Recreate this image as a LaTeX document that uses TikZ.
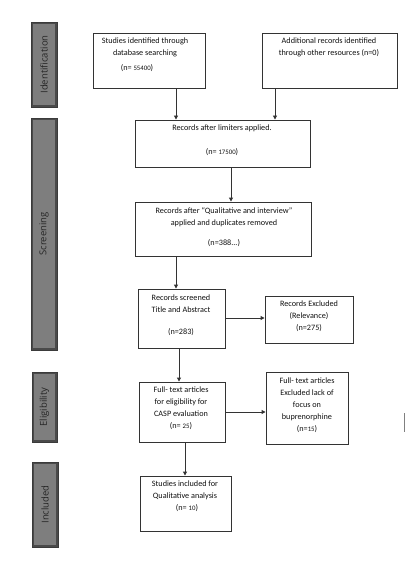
\documentclass[tikz,border=0pt]{standalone}
\usepackage{fontspec}
\setmainfont{Carlito}
\newfontfamily\barfont{Open Sans}
\usetikzlibrary{arrows.meta}
\definecolor{boxline}{HTML}{333333}
\definecolor{txtc}{HTML}{111111}
\definecolor{barout}{HTML}{4A4A4A}
\definecolor{barin}{HTML}{7E7E7E}
\newcommand{\smnum}[1]{{\fontsize{6.8}{12}\selectfont #1}}
\tikzset{
  box/.style={draw=boxline, line width=0.9pt, fill=white, inner sep=0pt},
  txt/.style={text=txtc, font=\fontsize{8.2}{12}\selectfont, align=center, inner sep=0pt, anchor=north},
  arr/.style={draw=boxline, line width=0.9pt, -{Triangle[length=4pt,width=4pt]}},
  barlbl/.style={text=black!85, font=\barfont\fontsize{9.5}{11}\selectfont, rotate=90, inner sep=0pt}
}
\newcommand{\phasebar}[4]{%
  \fill[barout] (#1,#2) rectangle (#3,#4);
  \fill[barin] (#1+2.2,#2-2.2) rectangle (#3-2.2,#4+2.2);
  \draw[barout!80!black, line width=0.6pt] (#1,#2) rectangle (#3,#4);
}
\begin{document}
\begin{tikzpicture}[x=1pt,y=1pt]
\useasboundingbox[fill=white] (0,0) rectangle (407,-567);

% phase bars
\phasebar{31}{-22}{57}{-107}
\node[barlbl] (pid) at (44,-64.5) {Identification};
\phasebar{31}{-118}{57}{-350}
\node[barlbl] (psc) at (44,-234) {Screening};
\phasebar{32}{-372}{57}{-442}
\node[barlbl] (pel) at (44.5,-407) {Eligibility};
\phasebar{32}{-462}{58}{-547}
\node[barlbl] (pin) at (45,-504.5) {Included};

% boxes
\node[box, minimum width=112pt, minimum height=55pt] (A) at (149,-60.5) {};
\node[box, minimum width=135pt, minimum height=55pt] (B) at (329.5,-60.5) {};
\node[box, minimum width=175pt, minimum height=47pt] (C) at (222.5,-143.5) {};
\node[box, minimum width=176pt, minimum height=54pt] (D) at (223,-229) {};
\node[box, minimum width=87pt, minimum height=59pt] (E) at (181.5,-318.5) {};
\node[box, minimum width=88pt, minimum height=47pt] (F) at (309,-319.5) {};
\node[box, minimum width=86pt, minimum height=60pt] (G) at (182,-412) {};
\node[box, minimum width=82pt, minimum height=72pt] (H) at (307,-408) {};
\node[box, minimum width=91pt, minimum height=55pt] (I) at (185.5,-503.5) {};

% texts
\node[txt] (At) at (145,-38) {Studies identified through\\database searching};
\node[txt] (An) at (137,-64) {(n= \smnum{55400})};
\node[txt] (Bt) at (329,-38) {Additional records identified\\through other resources (n=0)};
\node[txt] (Ct) at (222,-125) {Records after limiters applied.};
\node[txt] (Cn) at (222,-148) {(n= \smnum{17500})};
\node[txt] (Dt) at (224,-207) {Records after “Qualitative and interview”\\applied and duplicates removed};
\node[txt] (Dn) at (224,-239) {(n=388...)};
\node[txt] (Et) at (181,-295) {Records screened\\Title and Abstract};
\node[txt] (En) at (181,-328) {(n=283)};
\node[txt] (Ft) at (309,-301) {Records Excluded\\(Relevance)\\(n=275)};
\node[txt] (Gt) at (181,-387) {Full- text articles\\for eligibility for\\CASP evaluation\\(n= \smnum{25})};
\node[txt] (Ht) at (307,-378) {Full- text articles\\Excluded lack of\\focus on\\buprenorphine\\(n=\smnum{15})};
\node[txt] (It) at (185,-481) {Studies included for\\Qualitative analysis\\\hspace*{4pt}(n= \smnum{10})};

% arrows
\draw[arr] (A.south -| 176,0) -- (C.north -| 176,0);
\draw[arr] (B.south -| 275,0) -- (C.north -| 275,0);
\draw[arr] (C.south -| 231,0) -- (D.north -| 231,0);
\draw[arr] (D.south -| 176,0) -- (E.north -| 176,0);
\draw[arr] (E.east |- 0,-318) -- (F.west |- 0,-318);
\draw[arr] (E.south -| 179,0) -- (G.north -| 179,0);
\draw[arr] (G.east |- 0,-412) -- (H.west |- 0,-412);
\draw[arr] (G.south -| 185,0) -- (I.north -| 185,0);

% stray mark
\coordinate (m1) at (404.5,-413);
\coordinate (m2) at (404.5,-432);
\draw[gray, line width=1.8pt] (m1) -- (m2);
\end{tikzpicture}
\end{document}
